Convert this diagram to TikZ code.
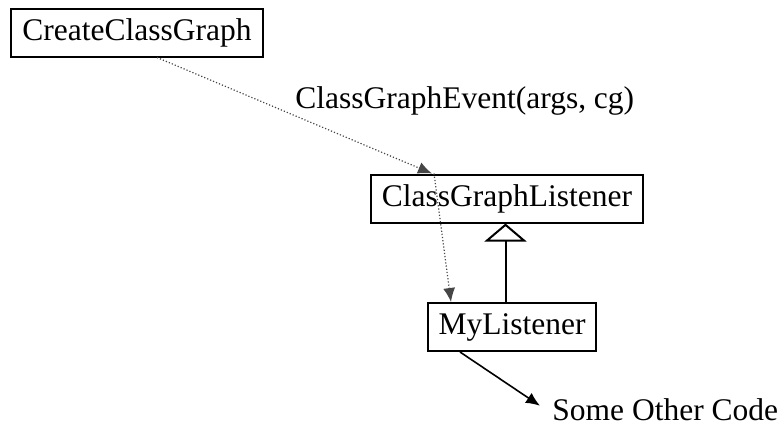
\documentclass[tikz,border=0pt]{standalone}
\usepackage{fontspec}
\setmainfont{Liberation Serif}
\usepackage{tikz}
\usetikzlibrary{
  arrows.meta,
  calc,
  positioning,
}
\tikzstyle{classbox} = [
  draw,
  line width=1pt,
  inner sep=0pt,
  minimum height=24pt,
  font=\fontsize{15.75}{18}\selectfont,
]
\tikzstyle{label} = [
  inner sep=0pt,
  font=\fontsize{15.75}{18}\selectfont,
]
\tikzstyle{call} = [
  -{Latex[length=7pt,width=6pt]},
  line width=0.6pt,
  densely dotted,
  callgrey,
]
\tikzstyle{inherit} = [
  -{Triangle[open,fill=white,length=9pt,width=21pt]},
  line width=1pt,
]
\tikzstyle{arrow} = [
  -{Latex[length=7pt,width=6pt]},
  line width=0.8pt,
]
\definecolor{callgrey}{RGB}{70, 70, 70}

\begin{document}
\begin{tikzpicture}[x=0.5pt, y=-0.5pt]

        \useasboundingbox (0,0) rectangle (781,424);

        \node [classbox, minimum width=126pt] (create) at (137, 32.5) {CreateClassGraph};

        \node [classbox, minimum width=136pt] (listener) at (507, 198.5) {ClassGraphListener};

        \node [classbox, minimum width=84pt] (mine) at (512, 327) {MyListener};

        \node [label, anchor=base west] (event) at (295, 108) {ClassGraphEvent(args, cg)};

        \node [label, anchor=base west] (other) at (552, 420) {Some Other Code};

        \coordinate (base) at ([xshift=-0.75pt]listener.south);

        \draw [call] ([xshift=10pt]create.south) -- ([xshift=-37.5pt]listener.north);

        \draw [call] ([xshift=-36.5pt]listener.north) -- ([xshift=-30.5pt]mine.north);

        \draw [inherit] (base |- mine.north) -- (base);

        \draw [arrow] ([xshift=-26pt]mine.south) -- ([xshift=-6pt, yshift=-4pt]other.north west);
      \end{tikzpicture}
\end{document}
